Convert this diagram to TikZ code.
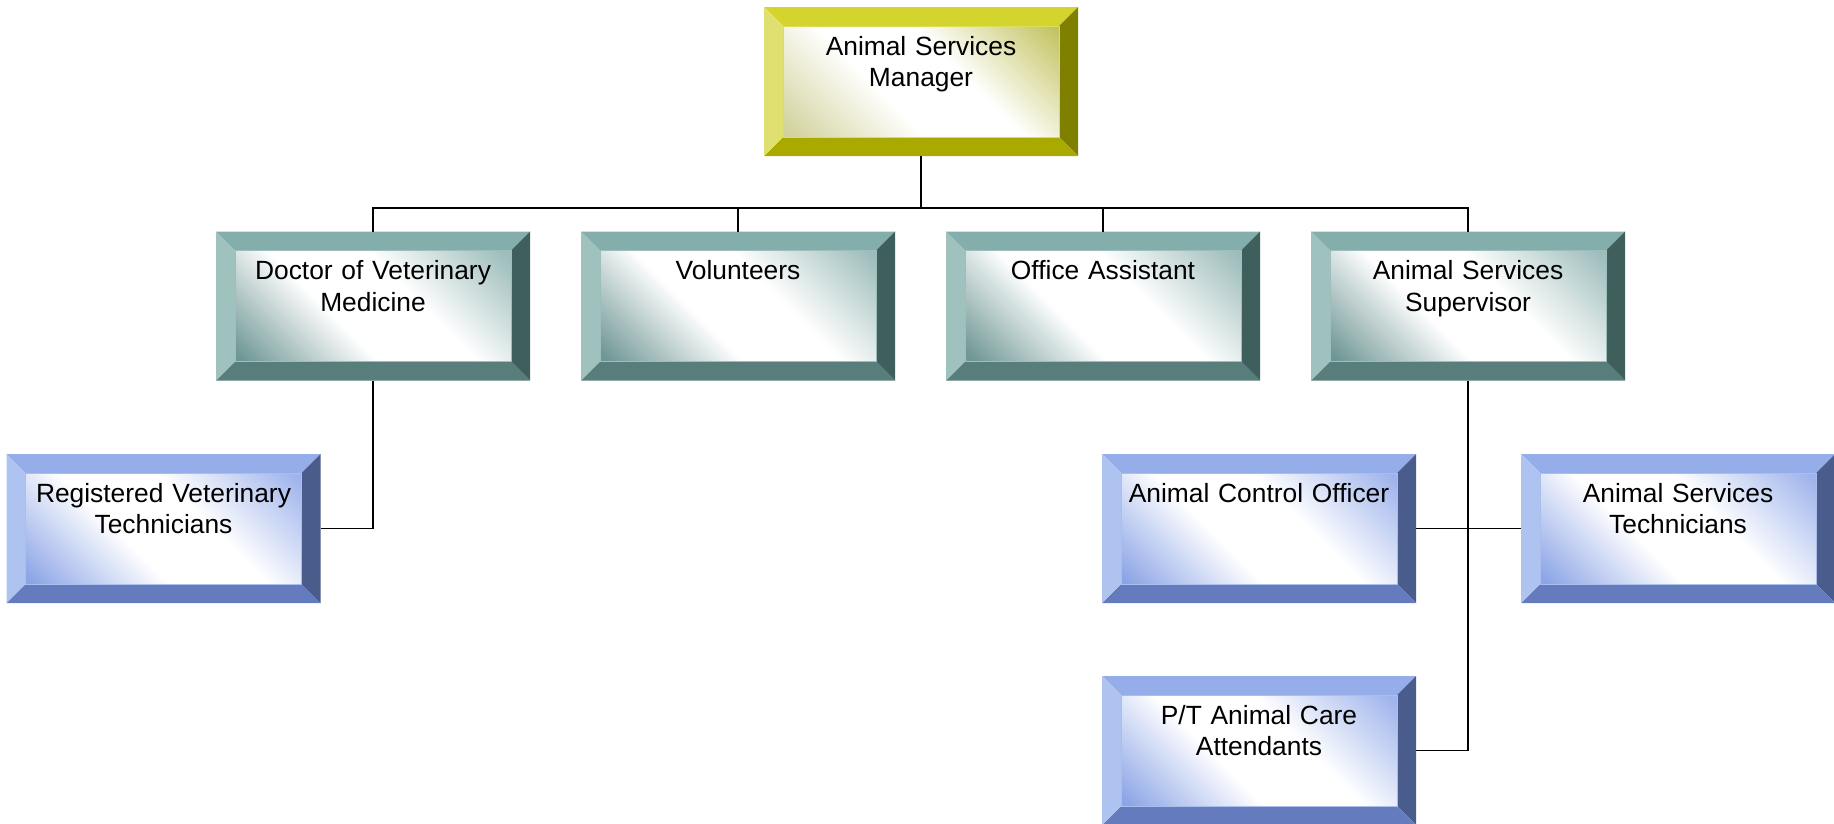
\documentclass[tikz,border=0pt]{standalone}
\usepackage{fontspec}
\setmainfont{Liberation Sans}
\usepackage{tikz}
\usetikzlibrary{calc}
\usetikzlibrary{positioning}

% yellow (manager)
\definecolor{yTop}{HTML}{D4D42E}
\definecolor{yLeft}{HTML}{E0E070}
\definecolor{yRight}{HTML}{7F7F00}
\definecolor{yBot}{HTML}{A9A900}
\definecolor{yTintA}{HTML}{D2D29C}
\definecolor{yTintB}{HTML}{C4C464}
% teal (second row)
\definecolor{tTop}{HTML}{84AEAB}
\definecolor{tLeft}{HTML}{9FC2BF}
\definecolor{tRight}{HTML}{3E5F5C}
\definecolor{tBot}{HTML}{587E7B}
\definecolor{tTintA}{HTML}{6E9694}
\definecolor{tTintB}{HTML}{9DBDBB}
% blue (third row)
\definecolor{bTop}{HTML}{95AEEA}
\definecolor{bLeft}{HTML}{AFC3F0}
\definecolor{bRight}{HTML}{4A5C8B}
\definecolor{bBot}{HTML}{647CBD}
\definecolor{bTintA}{HTML}{8CA5E6}
\definecolor{bTintB}{HTML}{9FB4EC}

% soft fade used inside every box
\colorlet{tintA}{white}
\colorlet{tintB}{white}
\pgfdeclareverticalshading[tintA,tintB]{bevelfade}{100bp}{color(0bp)=(tintA); color(16bp)=(tintA); color(41bp)=(white); color(59bp)=(white); color(84bp)=(tintB); color(100bp)=(tintB)}

\tikzset{
  bevelbox/.style={rectangle, inner xsep=0.34cm, inner ysep=0pt, outer sep=0pt,
    text width=5.6cm, align=center, text height=0.96cm, text depth=2.02cm,
    font=\fontsize{15}{18}\selectfont,
    path picture={
      \path (path picture bounding box.north west) coordinate (pnw)
            (path picture bounding box.north east) coordinate (pne)
            (path picture bounding box.south east) coordinate (pse)
            (path picture bounding box.south west) coordinate (psw);
      \path ($(pnw)+(0.38,-0.38)$) coordinate (qnw)
            ($(pne)+(-0.38,-0.38)$) coordinate (qne)
            ($(pse)+(-0.38,0.38)$) coordinate (qse)
            ($(psw)+(0.38,0.38)$) coordinate (qsw);
      \fill[#1Top] (pnw) -- (pne) -- (qne) -- (qnw) -- cycle;
      \fill[#1Right] (pne) -- (pse) -- (qse) -- (qne) -- cycle;
      \fill[#1Bot] (pse) -- (psw) -- (qsw) -- (qse) -- cycle;
      \fill[#1Left] (psw) -- (pnw) -- (qnw) -- (qsw) -- cycle;
      \colorlet{tintA}{#1TintA}\colorlet{tintB}{#1TintB}
      \shade[shading=bevelfade, shading angle=-45] (qnw) rectangle (qse);
      \draw[#1Top!80!white, line width=0.4pt] (qnw) rectangle (qse);
    }},
  mgrbox/.style={bevelbox=y},
  staffbox/.style={bevelbox=t},
  crewbox/.style={bevelbox=b}
}

\begin{document}
\begin{tikzpicture}[link/.style={draw=black, line width=1.1pt}]
  \useasboundingbox (0,0) rectangle (36.68,-16.48);

  % Nodes
  \node[mgrbox] (mgr) at (18.42,-1.63) {Animal Services\\Manager};
  \node[staffbox] (dvm) at (7.46,-6.12) {Doctor of Veterinary\\Medicine};
  \node[staffbox, right=1.02cm of dvm] (vol) {Volunteers};
  \node[staffbox, right=1.02cm of vol] (office) {Office Assistant};
  \node[staffbox, right=1.02cm of office] (super) {Animal Services\\Supervisor};
  \node[crewbox] (rvt) at (3.27,-10.57) {Registered Veterinary\\Technicians};
  \node[crewbox] (aco) at (25.18,-10.57) {Animal Control Officer};
  \node[crewbox, right=2.1cm of aco] (ast) {Animal Services\\Technicians};
  \node[crewbox, below=1.46cm of aco] (pta) {P/T Animal Care\\Attendants};

  % Lines
  \coordinate (bus) at ($(mgr.south)+(0,-1.04)$);
  \draw[link] (mgr.south) -- (bus);
  \draw[link] (bus) -| (dvm.north);
  \draw[link] (bus) -| (vol.north);
  \draw[link] (bus) -| (office.north);
  \draw[link] (bus) -| (super.north);
  \draw[link] (dvm.south) |- (rvt.east);
  \draw[link] (super.south) |- (pta.east);
  \draw[link] (aco.east) -- (ast.west);
\end{tikzpicture}
\end{document}
